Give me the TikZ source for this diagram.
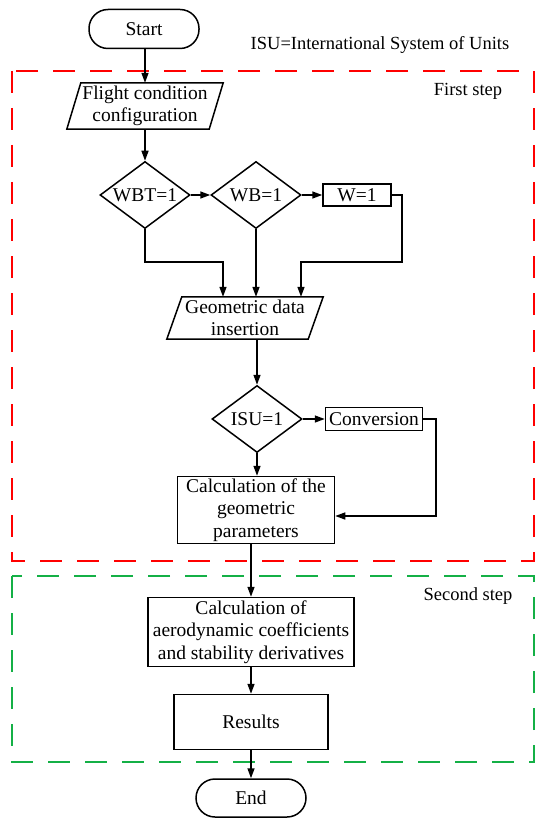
\documentclass[tikz,border=0pt]{standalone}
\usepackage{fontspec}
\setmainfont{Liberation Serif}
\usetikzlibrary{arrows.meta,shapes.geometric,calc}
\definecolor{stepred}{RGB}{255,0,0}
\definecolor{stepgreen}{RGB}{20,176,70}
\begin{document}
\begin{tikzpicture}[x=1pt,y=1pt,
  font=\fontsize{19.5}{22.5}\selectfont,
  every node/.style={align=center},
  note/.style={font=\fontsize{18.5}{22}\selectfont},
  term/.style={draw,line width=1.5pt,rectangle,rounded corners=19pt,minimum width=110pt,minimum height=39pt,inner sep=0pt},
  procbox/.style={draw,line width=1.5pt,rectangle,inner sep=1pt},
  smallbox/.style={draw,line width=1.5pt,rectangle,inner sep=0pt,minimum height=22pt},
  decide/.style={draw,line width=1.5pt,diamond,aspect=1.34,inner sep=0pt,minimum width=90pt,minimum height=67pt},
  iobody/.style={inner sep=0pt},
  arr/.style={line width=1.5pt,-{Triangle[length=10pt,width=7pt]}},
  stepframe/.style={line width=2pt,dash pattern=on 22pt off 15pt}]
\useasboundingbox (0,0) rectangle (536,-818);

% frames
\draw[stepframe,stepred] (12,-71) rectangle (534,-561);
\draw[stepframe,stepgreen] (12,-576) rectangle (534,-762);
\node[note] (isunote) at (380,-45) {ISU=International System of Units};
\node[note] (first) at (468,-91) {First step};
\node[note] (second) at (468,-596) {Second step};

% nodes
\node[term] (start) at (144,-29) {Start};
\node[iobody,minimum width=142pt,minimum height=46pt] (flight) at (145,-106) {Flight condition\\configuration};
\draw[line width=1.5pt] ([xshift=-7pt]flight.south west) -- ([xshift=-7pt]flight.south east) -- ([xshift=7pt]flight.north east) -- ([xshift=7pt]flight.north west) -- cycle;

\node[decide] (wbt) at (145,-195) {WBT=1};
\node[decide] (wb) at (256,-195) {WB=1};
\node[smallbox,minimum width=68pt] (w) at (357,-195) {W=1};

\node[iobody,minimum width=141pt,minimum height=42pt] (geo) at (245,-318) {Geometric data\\insertion};
\draw[line width=1.5pt] ([xshift=-7.5pt]geo.south west) -- ([xshift=-7.5pt]geo.south east) -- ([xshift=7.5pt]geo.north east) -- ([xshift=7.5pt]geo.north west) -- cycle;

\node[decide] (isu) at (257,-419) {ISU=1};
\node[smallbox,minimum width=97pt,minimum height=23pt] (conv) at (374,-419) {Conversion};
\node[procbox,minimum width=157pt,minimum height=67pt] (calc) at (256,-510) {Calculation of the\\geometric\\parameters};

\node[procbox,minimum width=206pt,minimum height=69pt] (aero) at (251,-632) {Calculation of\\aerodynamic coefficients\\and stability derivatives};
\node[procbox,minimum width=154pt,minimum height=55pt] (res) at (251,-722) {Results};
\node[term,minimum height=38pt] (end) at (251,-798) {End};

% junction coordinates
\coordinate (c1) at (223,-262);
\coordinate (j3) at (402,-262);
\coordinate (c3) at (301,-262);
\coordinate (j4) at (436,-516);

% connectors
\draw[arr] (start.south -| flight.north) -- (flight.north);
\draw[arr] (flight.south) -- (wbt.north);
\draw[arr] (wbt.east) -- (wb.west);
\draw[arr] (wb.east) -- (w.west);
\draw[arr] (wbt.south) |- (c1) -- (c1 |- geo.north);
\draw[arr] (wb.south) -- (wb.south |- geo.north);
\draw[arr] (w.east) -| (j3) -- (c3) -- (c3 |- geo.north);
\draw[arr] (isu.north |- geo.south) -- (isu.north);
\draw[arr] (isu.east) -- (conv.west);
\draw[arr] (isu.south) -- (isu.south |- calc.north);
\draw[arr] (conv.east) -| (j4) -- (j4 -| calc.east);
\draw[arr] (aero.north |- calc.south) -- (aero.north);
\draw[arr] (aero.south) -- (res.north);
\draw[arr] (res.south) -- (end.north);
\end{tikzpicture}
\end{document}
